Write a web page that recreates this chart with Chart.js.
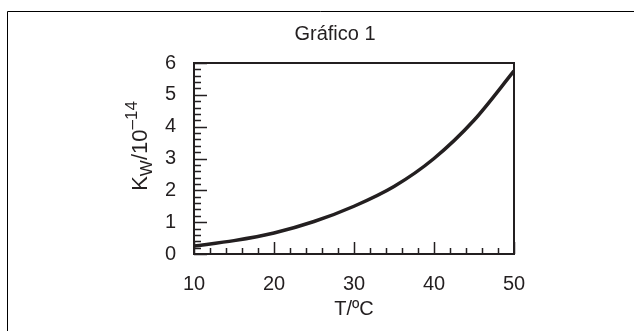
<!DOCTYPE html>
<html>
<head>
<meta charset="utf-8">
<script src="https://cdn.jsdelivr.net/npm/chart.js@4"></script>
<style>
  html, body { margin: 0; padding: 0; background: #fff; }
  #wrap { width: 634px; height: 331px; }
</style>
</head>
<body>
<div id="wrap"><canvas id="kw" width="634" height="331"></canvas></div>
<script>
// values (Kw / 1e-14 vs temperature)
const temps = [10, 15, 20, 25, 30, 35, 40, 45, 50];
const kw = [0.25, 0.42, 0.66, 1.02, 1.5, 2.12, 3.0, 4.2, 5.75];
const xTicks = [10, 20, 30, 40, 50];
const yTicks = [0, 1, 2, 3, 4, 5, 6];

const INK = '#231f20';
const FONT = 'Liberation Sans, Arial, sans-serif';

// inner ticks, frame, title and the y label with sub/superscript
const decor = {
  id: 'decor',
  afterDraw(chart) {
    const { ctx, chartArea: a, scales: { x, y } } = chart;
    ctx.save();
    ctx.strokeStyle = INK;
    ctx.lineWidth = 1.5;
    ctx.beginPath();
    for (let v = 10; v <= 50; v += 2) {
      const px = Math.round(x.getPixelForValue(v)) + 0.5;
      const len = v % 10 === 0 ? 12 : 6;
      ctx.moveTo(px, a.bottom);
      ctx.lineTo(px, a.bottom - len);
    }
    for (let i = 0; i <= 30; i++) {
      const v = i / 5;
      const py = Math.round(y.getPixelForValue(v)) + 0.5;
      const len = i % 5 === 0 ? 13 : 7;
      ctx.moveTo(a.left, py);
      ctx.lineTo(a.left + len, py);
    }
    ctx.stroke();

    ctx.lineWidth = 2;
    ctx.strokeRect(a.left, a.top, a.right - a.left, a.bottom - a.top);

    // outer frame of the figure
    ctx.lineWidth = 1;
    ctx.strokeStyle = '#000';
    ctx.beginPath();
    ctx.moveTo(7.5, 331);
    ctx.lineTo(7.5, 11.5);
    ctx.lineTo(634, 11.5);
    ctx.stroke();

    ctx.fillStyle = INK;
    ctx.textAlign = 'center';
    ctx.textBaseline = 'alphabetic';
    ctx.font = '20px ' + FONT;
    ctx.fillText('Gráfico 1', 335, 40);

    // y axis title: K_W/10^-14
    ctx.translate(147, 146);
    ctx.rotate(-Math.PI / 2);
    const big = '22px ' + FONT, small = '17px ' + FONT;
    const parts = [
      { t: 'K', f: big, dy: 0 },
      { t: 'W', f: small, dy: 5 },
      { t: '/10', f: big, dy: 0 },
      { t: '–14', f: small, dy: -10 }
    ];
    let total = 0;
    parts.forEach(p => { ctx.font = p.f; p.w = ctx.measureText(p.t).width; total += p.w; });
    let cx = -total / 2;
    ctx.textAlign = 'left';
    parts.forEach(p => { ctx.font = p.f; ctx.fillText(p.t, cx, p.dy); cx += p.w; });
    ctx.restore();
  }
};

new Chart(document.getElementById('kw'), {
  type: 'line',
  data: {
    labels: temps,
    datasets: [{
      data: temps.map((t, i) => ({ x: t, y: kw[i] })),
      borderColor: INK,
      borderWidth: 3.5,
      pointRadius: 0,
      tension: 0.3,
      fill: false
    }]
  },
  options: {
    responsive: false,
    animation: false,
    layout: { padding: { left: 134, right: 120, top: 63, bottom: 10 } },
    plugins: { legend: { display: false }, tooltip: { enabled: false } },
    scales: {
      x: {
        type: 'linear', min: 10, max: 50,
        afterBuildTicks: s => { s.ticks = xTicks.map(v => ({ value: v })); },
        ticks: { color: INK, font: { family: FONT, size: 20 }, padding: 10, maxRotation: 0 },
        grid: { display: false },
        border: { display: false },
        title: { display: true, text: 'T/ºC', color: INK, font: { family: FONT, size: 20 }, padding: { top: 7, bottom: 0 } },
        afterFit: s => { s.height = 67; }
      },
      y: {
        min: 0, max: 6,
        afterBuildTicks: s => { s.ticks = yTicks.map(v => ({ value: v })); },
        ticks: { color: INK, font: { family: FONT, size: 20 }, padding: 10 },
        grid: { display: false },
        border: { display: false },
        afterFit: s => { s.width = 60; }
      }
    }
  },
  plugins: [decor]
});
</script>
</body>
</html>
